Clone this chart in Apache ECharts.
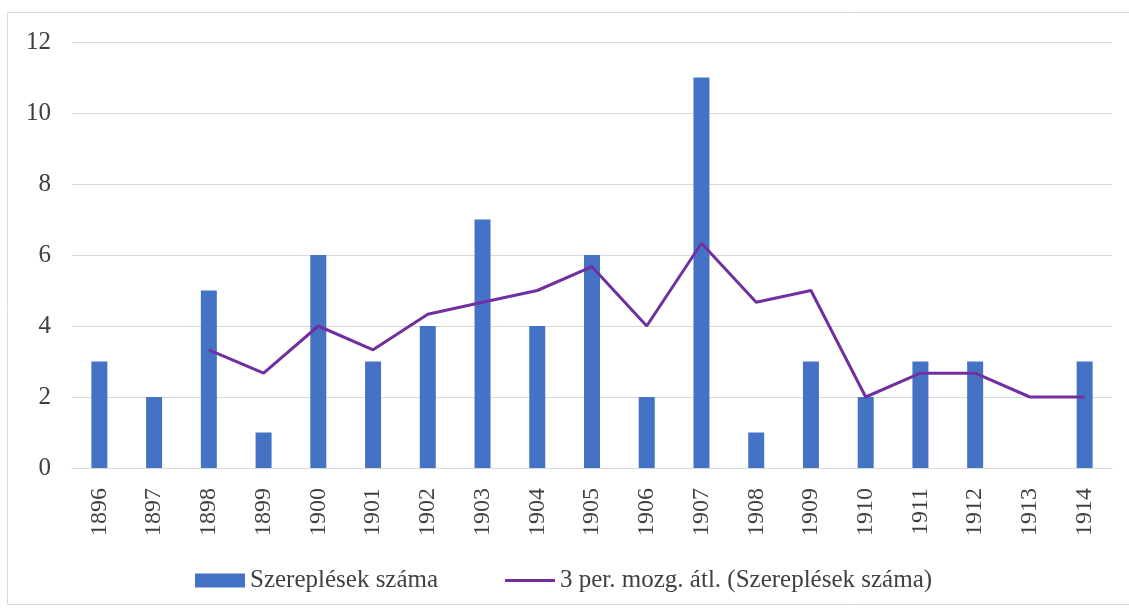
<!DOCTYPE html>
<html>
<head>
<meta charset="utf-8">
<script src="https://cdn.jsdelivr.net/npm/echarts@6/dist/echarts.min.js"></script>
<style>
  html, body { margin: 0; padding: 0; background: #ffffff; }
  #chart { width: 1129px; height: 610px; }
</style>
</head>
<body>
<div id="chart"></div>
<script>
// Évek (kategóriák)
const years = ['1896','1897','1898','1899','1900','1901','1902','1903','1904','1905',
               '1906','1907','1908','1909','1910','1911','1912','1913','1914'];
// Szereplések száma évenként
const appearances = [3, 2, 5, 1, 6, 3, 4, 7, 4, 6, 2, 11, 1, 3, 2, 3, 3, 0, 3];
// 3 periódusos mozgóátlag (az első két évre nincs érték)
const movingAvg = [null, null, 3.33, 2.67, 4, 3.33, 4.33, 4.67, 5, 5.67,
                   4, 6.33, 4.67, 5, 2, 2.67, 2.67, 2, 2];
// Függőleges tengely beosztása
const yMin = 0, yMax = 12, yStep = 2;

const barName = 'Szereplések száma';
const lineName = '3 per. mozg. átl. (Szereplések száma)';
const font = '"Liberation Serif", "Times New Roman", serif';
const textColor = '#404040';
const legendText = { fontFamily: font, fontSize: 25, color: textColor };

const chart = echarts.init(document.getElementById('chart'), null, { renderer: 'canvas' });
chart.setOption({
  animation: false,
  backgroundColor: '#ffffff',
  textStyle: { fontFamily: font },
  graphic: [{
    type: 'rect',
    shape: { x: 7.5, y: 12.5, width: 1130, height: 592 },
    style: { fill: 'none', stroke: '#d9d9d9', lineWidth: 1 },
    silent: true
  }],
  grid: { left: 72, right: 17, top: 42, bottom: 142 },
  legend: [
    {
      left: 190,
      top: 563,
      itemWidth: 50,
      itemHeight: 14,
      itemGap: 5,
      textStyle: legendText,
      data: [{ name: barName, icon: 'rect' }]
    },
    {
      left: 500,
      top: 563,
      itemWidth: 50,
      itemHeight: 3,
      textStyle: legendText,
      data: [{ name: lineName, icon: 'rect' }]
    }
  ],
  xAxis: {
    type: 'category',
    data: years,
    boundaryGap: true,
    axisLine: { show: true, lineStyle: { color: '#d9d9d9', width: 1 } },
    axisTick: { show: false },
    axisLabel: {
      rotate: 90,
      margin: 20,
      fontFamily: font,
      fontSize: 24,
      color: textColor,
      interval: 0
    }
  },
  yAxis: {
    type: 'value',
    min: yMin,
    max: yMax,
    interval: yStep,
    axisLine: { show: false },
    axisTick: { show: false },
    splitLine: { lineStyle: { color: '#d9d9d9', width: 1 } },
    axisLabel: {
      margin: 21,
      fontFamily: font,
      fontSize: 25,
      color: textColor
    }
  },
  series: [
    {
      name: barName,
      type: 'bar',
      data: appearances,
      barWidth: 16,
      itemStyle: { color: '#4472c4' }
    },
    {
      name: lineName,
      type: 'line',
      data: movingAvg,
      symbol: 'none',
      connectNulls: false,
      lineStyle: { color: '#7030a0', width: 3 },
      itemStyle: { color: '#7030a0' }
    }
  ]
});
</script>
</body>
</html>
